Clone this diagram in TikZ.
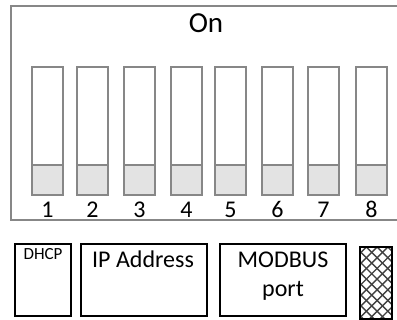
\documentclass[tikz,border=0pt]{standalone}
\usepackage{fontspec}
\setmainfont{Carlito}
\tikzset{
  swframe/.style={draw=black!47, line width=1.8pt},
  swlever/.style={draw=black!47, fill=black!11, line width=1.8pt},
  numlabel/.style={anchor=base, inner sep=0pt, font=\fontsize{24}{28}\selectfont},
  blockbox/.style={draw=black, line width=1.4pt},
  blocktext/.style={anchor=base, inner sep=0pt, font=\fontsize{24}{28}\selectfont},
}
\begin{document}
\begin{tikzpicture}[x=1pt, y=-1pt]
\useasboundingbox (0,0) rectangle (397,320);
% DIP switch housing (open on the right)
\draw[draw=black!47, line width=1.8pt] (401,6) -- (11,6) -- (11,220) -- (401,220);
\node[anchor=base, inner sep=0pt, font=\fontsize{29}{33}\selectfont] (on) at (206,33) {On};
% eight switches with their lever in the lower position
\foreach \n/\x in {1/32, 2/77, 3/124, 4/171, 5/215, 6/262, 7/308, 8/356} {
  \draw[swframe] (\x,67) rectangle ++(31,128);
  \draw[swlever] (\x,165) rectangle (\x+31,195);
  \node[numlabel] (n\n) at (\x+15.5,218) {\n};
}
% connector blocks
\draw[blockbox] (15,244) rectangle (71,316);
\node[anchor=base, inner sep=0pt, font=\fontsize{17}{20}\selectfont] (dhcp) at (43,260) {DHCP};
\draw[blockbox] (81,244) rectangle (207,316);
\node[blocktext] (ip) at (143,268) {IP Address};
\draw[blockbox] (220,244) rectangle (346,316);
\node[blocktext] (modbus) at (283,268) {MODBUS};
\node[blocktext] (port) at (283,297) {port};
% cross-hatched block
\begin{scope}
  \clip (360,247) rectangle (392,319);
  \foreach \i in {-10,...,12} {
    \draw[black!75, line width=1.4pt] (345+\i*10.7,247) -- ++(80,80);
    \draw[black!75, line width=1.4pt] (345+\i*10.7,247) -- ++(-80,80);
  }
\end{scope}
\draw[draw=black, line width=2pt] (360,247) rectangle (392,319);
\end{tikzpicture}
\end{document}
